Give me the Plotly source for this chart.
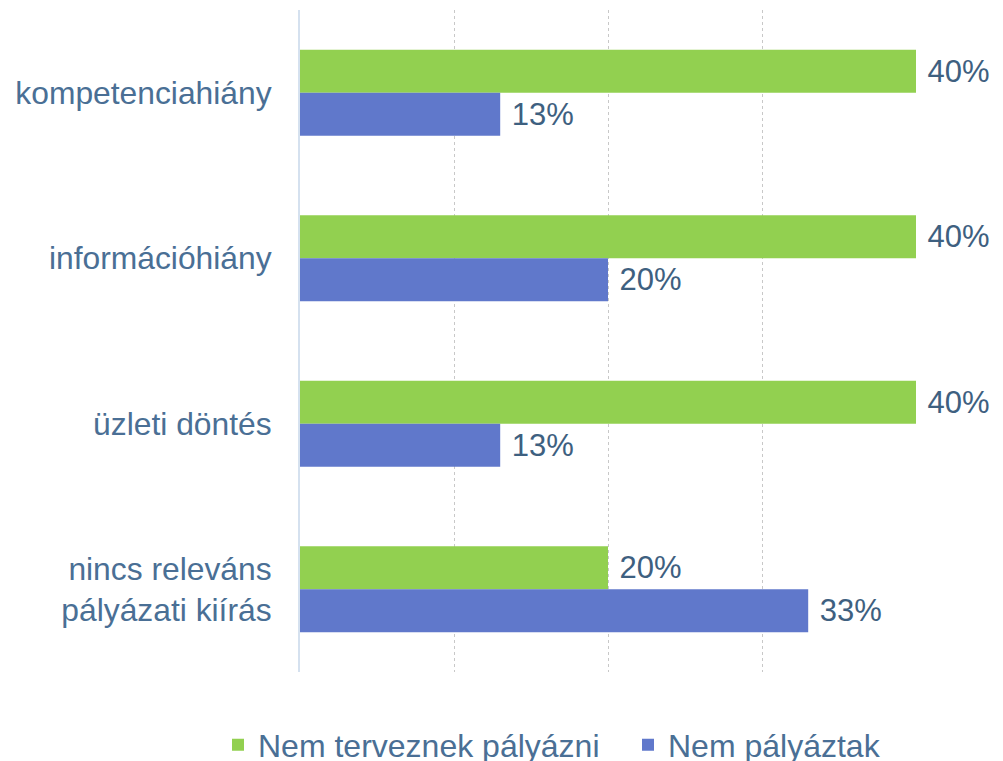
import plotly.graph_objects as go

categories = ["kompetenciahiány", "információhiány", "üzleti döntés", "nincs releváns<br>pályázati kiírás"]
series_names = ["Nem terveznek pályázni", "Nem pályáztak"]
nem_terveznek = [40, 40, 40, 20]
nem_palyaztak = [13, 20, 13, 33]
colors = ["#92d050", "#6078cb"]
legend_ids = ["legend", "legend2"]

FONT = "Liberation Sans, Arial, sans-serif"
label_color = "#4a6f95"
data_color = "#3e6080"

fig = go.Figure()
for name, vals, col, lg in zip(series_names, [nem_terveznek, nem_palyaztak], colors, legend_ids):
    fig.add_trace(go.Bar(
        y=categories, x=vals, name=name, orientation="h",
        marker=dict(color=col, line=dict(width=0)),
        text=[" %d%%" % v for v in vals],
        textposition="outside",
        textfont=dict(family=FONT, size=31, color=data_color),
        cliponaxis=False,
        legend=lg,
    ))

legend_common = dict(orientation="h", xref="container", yref="container",
                     xanchor="left", y=0.0316, yanchor="middle",
                     bgcolor="rgba(0,0,0,0)",
                     font=dict(family=FONT, size=32, color=label_color))

fig.update_layout(
    width=1003, height=761,
    margin=dict(l=292, r=95, t=2, b=97, autoexpand=False),
    paper_bgcolor="white", plot_bgcolor="white",
    barmode="group", bargap=0.48, bargroupgap=0,
    font=dict(family=FONT, size=31, color=label_color),
    showlegend=True,
    legend=dict(x=210 / 1003, **legend_common),
    legend2=dict(x=620 / 1003, **legend_common),
    xaxis=dict(range=[0, 40], tickvals=[10, 20, 30, 40], showticklabels=False,
               showgrid=True, gridcolor="#c8c8c8", griddash="dot", gridwidth=1,
               zeroline=False, showline=False, fixedrange=True, automargin=False),
    yaxis=dict(autorange="reversed", showline=True, linecolor="#d5e1ef", linewidth=2,
               ticks="outside", ticklen=20, tickcolor="rgba(0,0,0,0)", automargin=False,
               tickfont=dict(family=FONT, size=31.8, color=label_color)),
)
fig.write_html("out.html")
